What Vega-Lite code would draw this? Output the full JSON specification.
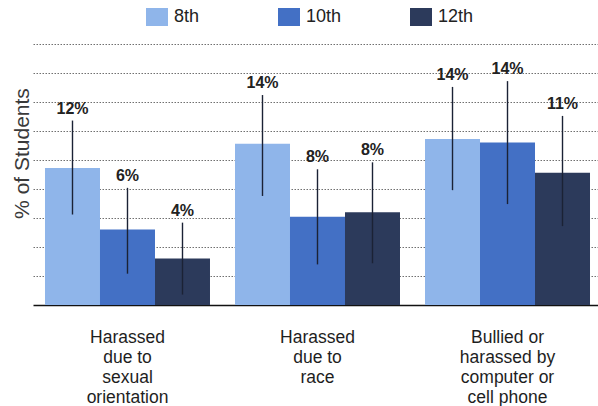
{
  "$schema": "https://vega.github.io/schema/vega-lite/v6.json",
  "autosize": "none",
  "width": 565,
  "height": 261,
  "padding": {"left": 33, "top": 44, "right": 0, "bottom": 101},
  "background": "white",
  "config": {
    "view": {"stroke": null},
    "font": "Liberation Sans"
  },
  "data": {
    "values": [
      {"category": "Harassed|due to|sexual|orientation", "grade": "8th", "value": 11.8, "lo": 7.8, "hi": 15.9, "label": "12%"},
      {"category": "Harassed|due to|sexual|orientation", "grade": "10th", "value": 6.5, "lo": 2.7, "hi": 10.1, "label": "6%"},
      {"category": "Harassed|due to|sexual|orientation", "grade": "12th", "value": 4.0, "lo": 0.9, "hi": 7.1, "label": "4%"},
      {"category": "Harassed|due to|race", "grade": "8th", "value": 13.9, "lo": 9.4, "hi": 18.1, "label": "14%"},
      {"category": "Harassed|due to|race", "grade": "10th", "value": 7.6, "lo": 3.5, "hi": 11.7, "label": "8%"},
      {"category": "Harassed|due to|race", "grade": "12th", "value": 8.0, "lo": 3.6, "hi": 12.3, "label": "8%"},
      {"category": "Bullied or|harassed by|computer or|cell phone", "grade": "8th", "value": 14.3, "lo": 9.9, "hi": 18.8, "label": "14%"},
      {"category": "Bullied or|harassed by|computer or|cell phone", "grade": "10th", "value": 14.0, "lo": 8.7, "hi": 19.3, "label": "14%"},
      {"category": "Bullied or|harassed by|computer or|cell phone", "grade": "12th", "value": 11.4, "lo": 6.8, "hi": 16.3, "label": "11%"}
    ]
  },
  "encoding": {
    "x": {
      "field": "category",
      "type": "nominal",
      "sort": null,
      "scale": {"paddingInner": 0.1316, "paddingOuter": 0.0526, "align": 0.6},
      "axis": {
        "title": null,
        "labelAngle": 0,
        "labelExpr": "split(datum.label, '|')",
        "labelFontSize": 17.5,
        "labelColor": "#1e1e1e",
        "labelLineHeight": 20,
        "labelPadding": 23,
        "labelBaseline": "top",
        "ticks": false,
        "domainColor": "#111111",
        "domainWidth": 1.5,
        "grid": false
      }
    },
    "xOffset": {
      "field": "grade",
      "type": "nominal",
      "sort": ["8th", "10th", "12th"],
      "scale": {"paddingInner": 0, "paddingOuter": 0}
    }
  },
  "layer": [
    {
      "mark": {"type": "bar"},
      "encoding": {
        "y": {
          "field": "value",
          "type": "quantitative",
          "scale": {"domain": [0, 22.5], "nice": false},
          "axis": {
            "title": "% of Students",
            "titleFontSize": 21,
            "titleFontWeight": "normal",
            "titleColor": "#3a3a3a",
            "titleX": -5,
            "titleY": 109,
            "titleBaseline": "alphabetic",
            "labels": false,
            "ticks": false,
            "domain": false,
            "values": [2.5, 5, 7.5, 10, 12.5, 15, 17.5, 20, 22.5],
            "tickCount": 20,
            "labelOverlap": false,
            "grid": true,
            "gridColor": "#707070",
            "gridDash": [1.5, 1.5],
            "gridWidth": 1
          }
        },
        "color": {
          "field": "grade",
          "type": "nominal",
          "sort": ["8th", "10th", "12th"],
          "scale": {"domain": ["8th", "10th", "12th"], "range": ["#8fb5ea", "#4370c5", "#2c3a5b"]},
          "legend": {
            "title": null,
            "orient": "none",
            "direction": "horizontal",
            "legendX": 114,
            "legendY": -37,
            "symbolType": "M-1.1,-0.9H1.1V0.9H-1.1Z",
            "symbolSize": 400,
            "symbolStrokeWidth": 0,
            "labelFontSize": 18,
            "labelColor": "#222222",
            "labelOffset": 7,
            "gridAlign": "all",
            "columnPadding": 68
          }
        }
      }
    },
    {
      "mark": {"type": "rule", "color": "#1b2235", "strokeWidth": 1.4},
      "encoding": {
        "y": {"field": "lo", "type": "quantitative"},
        "y2": {"field": "hi"}
      }
    },
    {
      "mark": {"type": "text", "fontWeight": "bold", "fontSize": 16, "color": "#222222", "baseline": "alphabetic", "dy": -7},
      "encoding": {
        "y": {"field": "hi", "type": "quantitative"},
        "text": {"field": "label"}
      }
    }
  ]
}
